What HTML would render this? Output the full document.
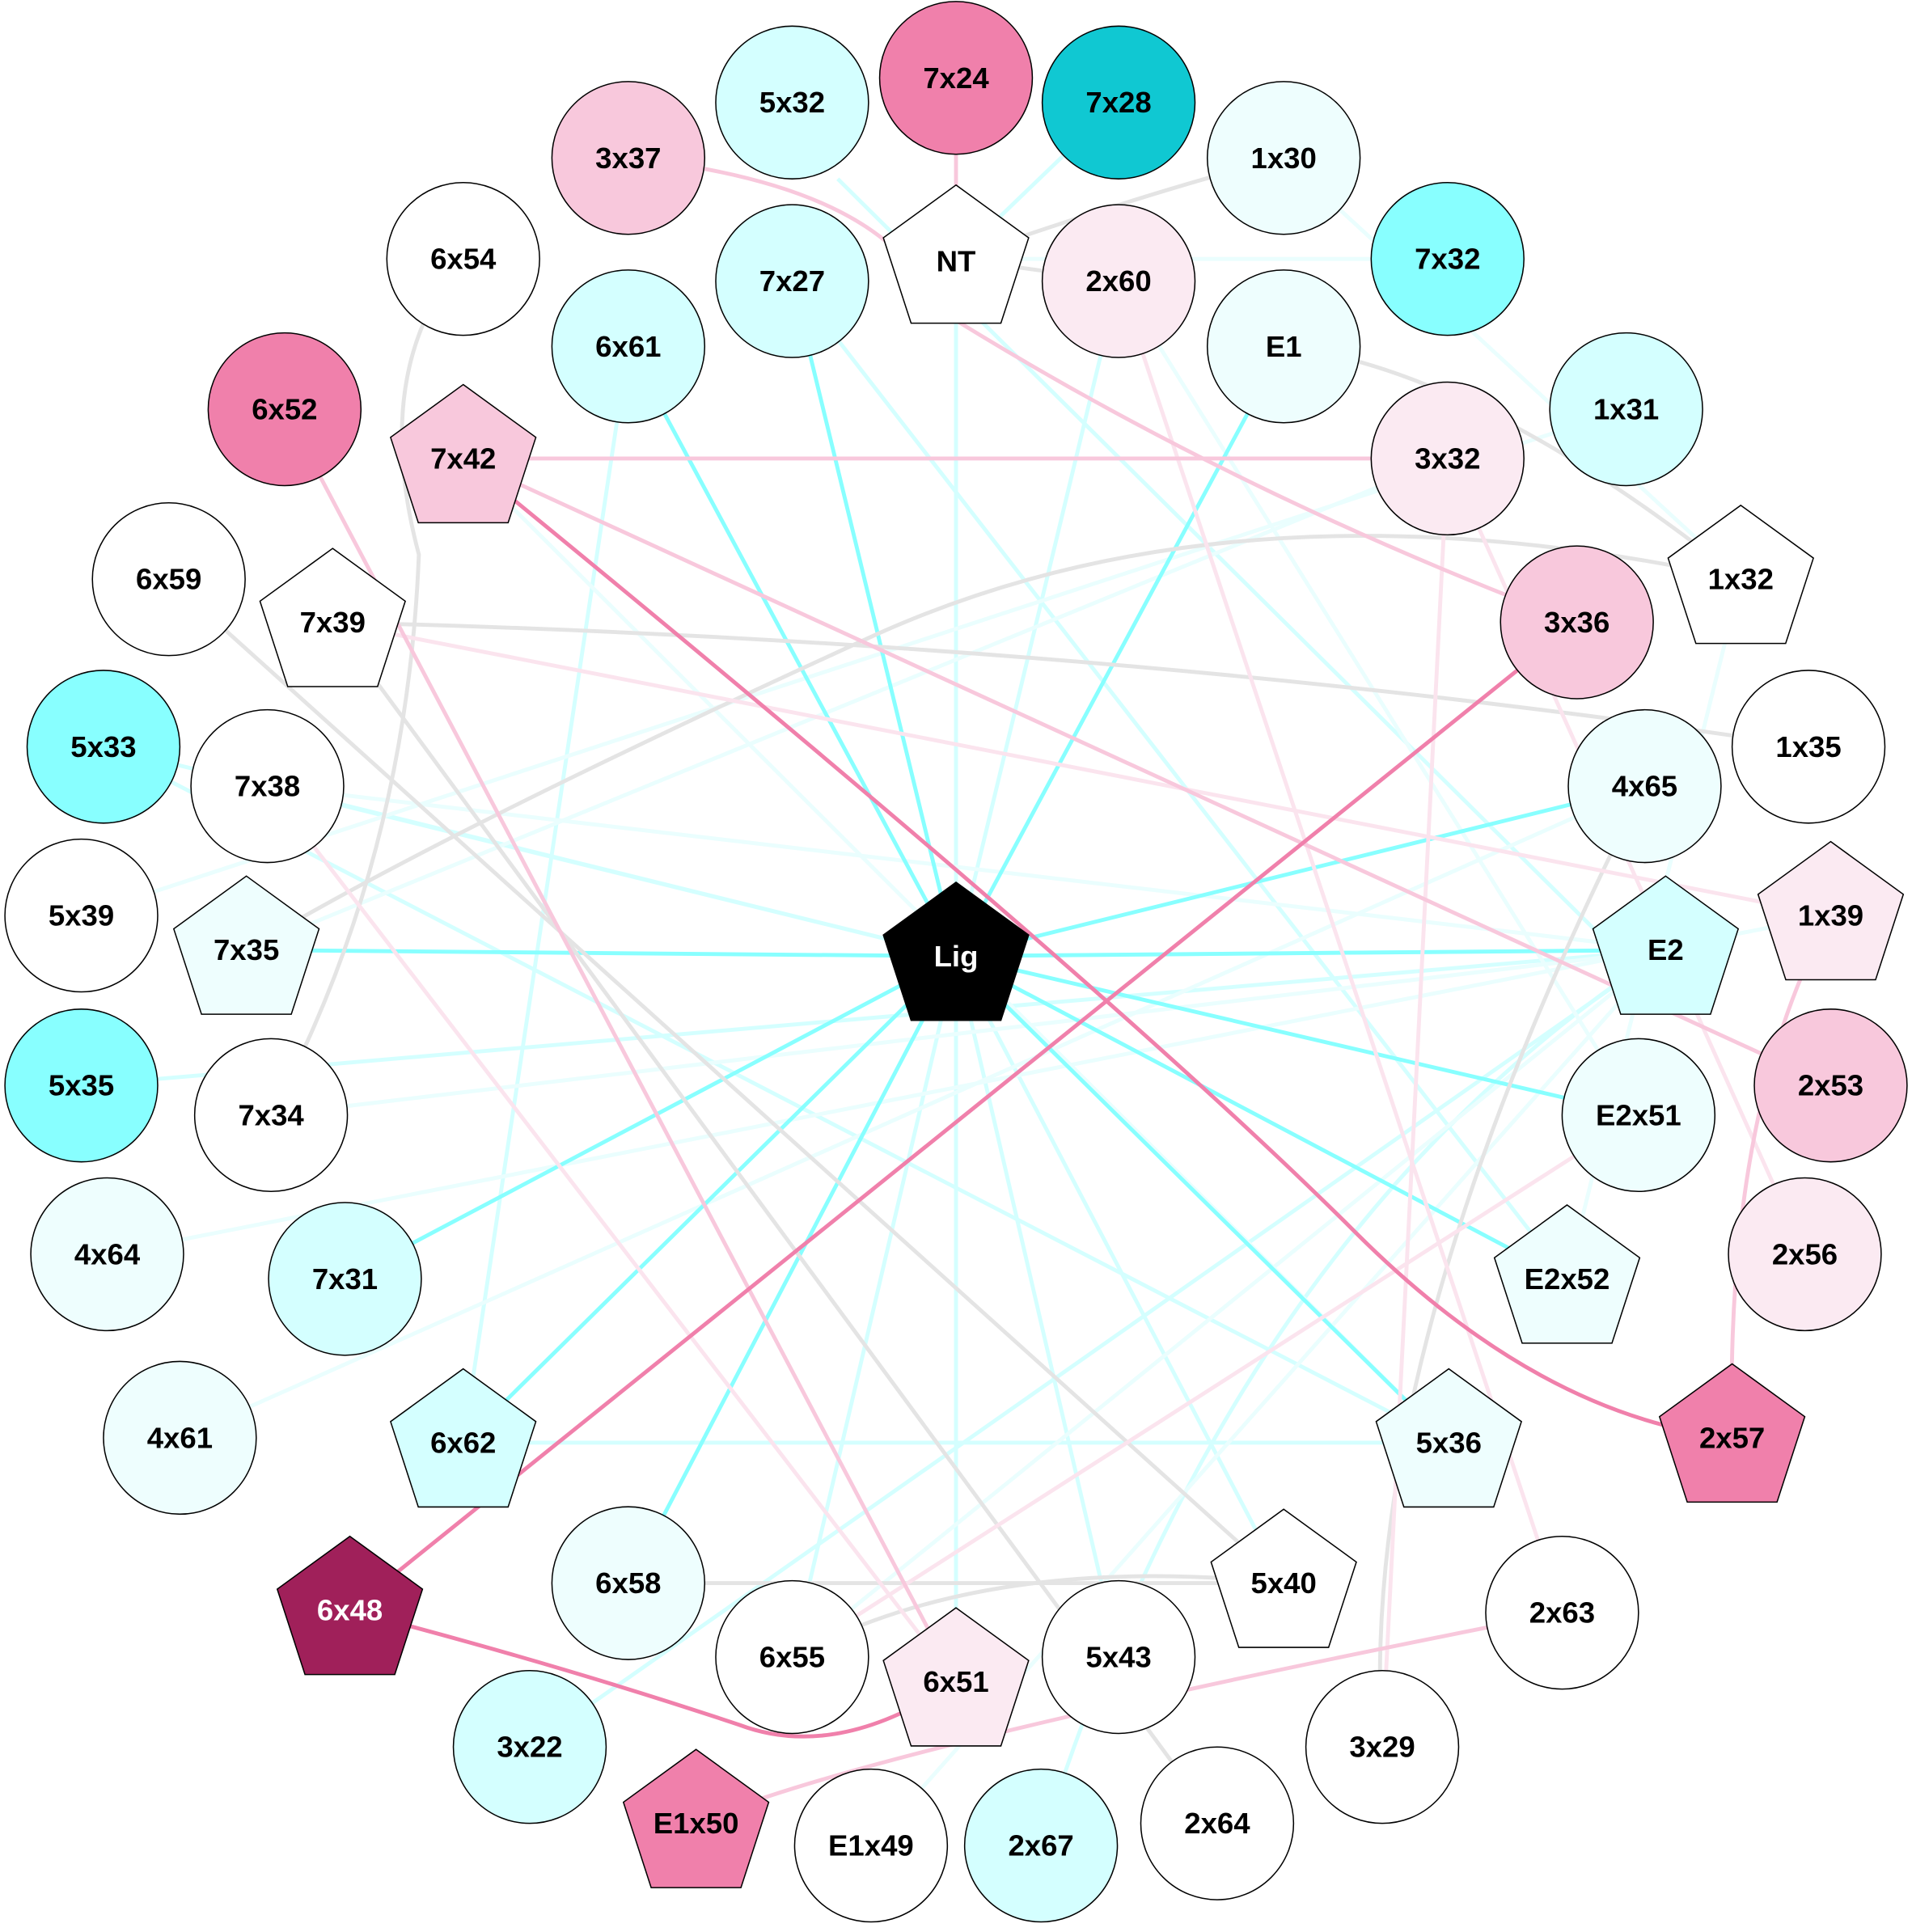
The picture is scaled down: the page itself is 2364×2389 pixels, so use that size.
<!DOCTYPE html>
<html><head><meta charset="utf-8"><style>html,body{margin:0;padding:0;background:#fff}svg{display:block}text{font-family:"Liberation Sans",Arial,sans-serif;font-weight:bold;font-size:24px;text-anchor:middle;dominant-baseline:central}</style></head>
<body>
<svg width="2364" height="2389" viewBox="0 0 1552 1568" xmlns="http://www.w3.org/2000/svg">
<defs>
<polygon id="pg" points="0,-62 58.97,-19.16 36.44,50.16 -36.44,50.16 -58.97,-19.16" stroke="#000" stroke-width="1"/>
</defs>
<g fill="none" stroke-width="3.2">
<g stroke="#d4ffff">
<line x1="776" y1="776" x2="776" y2="210"/>
<line x1="776" y1="776" x2="908" y2="228"/>
<line x1="776" y1="776" x2="84" y2="606"/>
<line x1="776" y1="776" x2="217" y2="638"/>
<line x1="776" y1="776" x2="643" y2="1345"/>
<line x1="776" y1="776" x2="776" y2="1365"/>
<line x1="776" y1="776" x2="908" y2="1345"/>
<line x1="776" y1="776" x2="1042" y2="1285"/>
<line x1="776" y1="776" x2="1352" y2="771"/>
<line x1="680" y1="145" x2="1300" y2="760"/>
<line x1="510" y1="281" x2="376" y2="1171"/>
<line x1="84" y1="606" x2="1176" y2="1171"/>
<line x1="1352" y1="771" x2="430" y2="1418"/>
<path d="M1352 771 Q1000 1000 845 1498"/>
<line x1="643" y1="228" x2="1272" y2="1038"/>
<line x1="376" y1="1171" x2="1176" y2="1171"/>
<line x1="66" y1="881" x2="1352" y2="771"/>
<line x1="908" y1="83" x2="776" y2="210"/>
</g>
<g stroke="#eafefe">
<line x1="776" y1="210" x2="1175" y2="210"/>
<line x1="1320" y1="332" x2="66" y2="743"/>
<line x1="1175" y1="372" x2="200" y2="771"/>
<line x1="217" y1="638" x2="1352" y2="771"/>
<line x1="220" y1="905" x2="1352" y2="771"/>
<line x1="87" y1="1018" x2="1486" y2="743"/>
<line x1="146" y1="1167" x2="1335" y2="638"/>
<line x1="707" y1="1498" x2="1352" y2="771"/>
<line x1="643" y1="1345" x2="1352" y2="771"/>
<line x1="1042" y1="128" x2="1413" y2="470"/>
<line x1="1272" y1="1038" x2="1413" y2="470"/>
<line x1="376" y1="372" x2="1176" y2="1171"/>
<line x1="908" y1="228" x2="1330" y2="905"/>
</g>
<g stroke="#88ffff">
<line x1="776" y1="776" x2="643" y2="228"/>
<line x1="776" y1="776" x2="510" y2="281"/>
<line x1="776" y1="776" x2="1042" y2="281"/>
<line x1="776" y1="776" x2="1335" y2="638"/>
<line x1="776" y1="776" x2="1352" y2="771"/>
<line x1="776" y1="776" x2="1330" y2="905"/>
<line x1="776" y1="776" x2="1272" y2="1038"/>
<line x1="776" y1="776" x2="1176" y2="1171"/>
<line x1="776" y1="776" x2="280" y2="1038"/>
<line x1="776" y1="776" x2="376" y2="1171"/>
<line x1="776" y1="776" x2="510" y2="1285"/>
<line x1="776" y1="776" x2="200" y2="771"/>
</g>
<g stroke="#e4e4e4">
<path d="M776 210 Q950 150 1042 128"/>
<line x1="776" y1="210" x2="908" y2="228"/>
<path d="M376 210 Q300 300 340 450 Q330 700 220 905"/>
<path d="M270 505 Q900 520 1468 606"/>
<line x1="270" y1="505" x2="988" y2="1480"/>
<line x1="137" y1="470" x2="1042" y2="1285"/>
<path d="M1413 470 Q1000 380 700 520 Q350 680 200 771"/>
<path d="M1042 281 Q1200 300 1413 470"/>
<line x1="510" y1="1285" x2="1042" y2="1285"/>
<path d="M643 1345 Q800 1260 1042 1285"/>
<path d="M1122 1418 Q1100 1100 1335 638"/>
</g>
<g stroke="#fbe4ee">
<line x1="908" y1="228" x2="1268" y2="1309"/>
<line x1="1122" y1="1418" x2="1175" y2="372"/>
<line x1="270" y1="505" x2="1486" y2="743"/>
<line x1="217" y1="638" x2="776" y2="1365"/>
<line x1="1465" y1="1018" x2="1175" y2="372"/>
<line x1="643" y1="1345" x2="1330" y2="905"/>
</g>
<g stroke="#f8c8dc">
<line x1="776" y1="63" x2="776" y2="210"/>
<path d="M510 128 Q720 150 760 250 Q1000 400 1280 505"/>
<line x1="231" y1="332" x2="776" y2="1365"/>
<line x1="376" y1="372" x2="1175" y2="372"/>
<line x1="376" y1="372" x2="1486" y2="881"/>
<path d="M565 1480 Q700 1420 1268 1309"/>
<path d="M1486 743 Q1400 900 1406 1167"/>
</g>
<g stroke="#f080ab">
<path d="M376 372 Q900 800 1100 1000 Q1250 1150 1406 1167"/>
<line x1="284" y1="1307" x2="1280" y2="505"/>
<path d="M284 1307 Q450 1350 600 1400 Q680 1430 776 1365"/>
</g>
</g>
<g stroke="#000" stroke-width="1">
<circle cx="776" cy="63" r="62" fill="#f080ab"/>
<circle cx="643" cy="83" r="62" fill="#d4ffff"/>
<circle cx="908" cy="83" r="62" fill="#10c8d2"/>
<circle cx="510" cy="128" r="62" fill="#f8c8dc"/>
<circle cx="1042" cy="128" r="62" fill="#eefefe"/>
<circle cx="376" cy="210" r="62" fill="#fff"/>
<circle cx="643" cy="228" r="62" fill="#d4ffff"/>
<circle cx="908" cy="228" r="62" fill="#fbeaf2"/>
<circle cx="1175" cy="210" r="62" fill="#88ffff"/>
<circle cx="510" cy="281" r="62" fill="#d4ffff"/>
<circle cx="1042" cy="281" r="62" fill="#eefefe"/>
<circle cx="231" cy="332" r="62" fill="#f080ab"/>
<circle cx="1175" cy="372" r="62" fill="#fbeaf2"/>
<circle cx="1320" cy="332" r="62" fill="#d4ffff"/>
<circle cx="137" cy="470" r="62" fill="#fff"/>
<circle cx="1280" cy="505" r="62" fill="#f8c8dc"/>
<circle cx="84" cy="606" r="62" fill="#88ffff"/>
<circle cx="217" cy="638" r="62" fill="#fff"/>
<circle cx="1335" cy="638" r="62" fill="#eefefe"/>
<circle cx="1468" cy="606" r="62" fill="#fff"/>
<circle cx="66" cy="743" r="62" fill="#fff"/>
<circle cx="66" cy="881" r="62" fill="#88ffff"/>
<circle cx="220" cy="905" r="62" fill="#fff"/>
<circle cx="1330" cy="905" r="62" fill="#eefefe"/>
<circle cx="1486" cy="881" r="62" fill="#f8c8dc"/>
<circle cx="87" cy="1018" r="62" fill="#eefefe"/>
<circle cx="280" cy="1038" r="62" fill="#d4ffff"/>
<circle cx="1465" cy="1018" r="62" fill="#fbeaf2"/>
<circle cx="146" cy="1167" r="62" fill="#eefefe"/>
<circle cx="510" cy="1285" r="62" fill="#eefefe"/>
<circle cx="1268" cy="1309" r="62" fill="#fff"/>
<circle cx="643" cy="1345" r="62" fill="#fff"/>
<circle cx="908" cy="1345" r="62" fill="#fff"/>
<circle cx="430" cy="1418" r="62" fill="#d4ffff"/>
<circle cx="1122" cy="1418" r="62" fill="#fff"/>
<circle cx="707" cy="1498" r="62" fill="#fff"/>
<circle cx="845" cy="1498" r="62" fill="#d4ffff"/>
<circle cx="988" cy="1480" r="62" fill="#fff"/>
</g>
<use href="#pg" x="776" y="212" fill="#fff"/>
<use href="#pg" x="376" y="374" fill="#f8c8dc"/>
<use href="#pg" x="270" y="507" fill="#fff"/>
<use href="#pg" x="1413" y="472" fill="#fff"/>
<use href="#pg" x="200" y="773" fill="#eefefe"/>
<use href="#pg" x="776" y="778" fill="#000"/>
<use href="#pg" x="1352" y="773" fill="#d4ffff"/>
<use href="#pg" x="1486" y="745" fill="#fbeaf2"/>
<use href="#pg" x="1272" y="1040" fill="#eefefe"/>
<use href="#pg" x="376" y="1173" fill="#d4ffff"/>
<use href="#pg" x="1176" y="1173" fill="#eefefe"/>
<use href="#pg" x="1406" y="1169" fill="#f080ab"/>
<use href="#pg" x="284" y="1309" fill="#a0205a"/>
<use href="#pg" x="1042" y="1287" fill="#fff"/>
<use href="#pg" x="776" y="1367" fill="#fbeaf2"/>
<use href="#pg" x="565" y="1482" fill="#f080ab"/>
<g fill="#000">
<text x="776" y="63">7x24</text><text x="643" y="83">5x32</text><text x="908" y="83">7x28</text>
<text x="510" y="128">3x37</text><text x="1042" y="128">1x30</text><text x="376" y="210">6x54</text>
<text x="643" y="228">7x27</text><text x="776" y="212">NT</text><text x="908" y="228">2x60</text>
<text x="1175" y="210">7x32</text><text x="510" y="281">6x61</text><text x="1042" y="281">E1</text>
<text x="231" y="332">6x52</text><text x="376" y="372">7x42</text><text x="1175" y="372">3x32</text>
<text x="1320" y="332">1x31</text><text x="137" y="470">6x59</text><text x="270" y="505">7x39</text>
<text x="1280" y="505">3x36</text><text x="1413" y="470">1x32</text><text x="84" y="606">5x33</text>
<text x="217" y="638">7x38</text><text x="1335" y="638">4x65</text><text x="1468" y="606">1x35</text>
<text x="66" y="743">5x39</text><text x="200" y="771">7x35</text><text x="1352" y="771">E2</text>
<text x="1486" y="743">1x39</text><text x="66" y="881">5x35</text><text x="220" y="905">7x34</text>
<text x="1330" y="905">E2x51</text><text x="1486" y="881">2x53</text><text x="87" y="1018">4x64</text>
<text x="280" y="1038">7x31</text><text x="1272" y="1038">E2x52</text><text x="1465" y="1018">2x56</text>
<text x="146" y="1167">4x61</text><text x="376" y="1171">6x62</text><text x="1176" y="1171">5x36</text>
<text x="1406" y="1167">2x57</text><text x="510" y="1285">6x58</text><text x="1042" y="1285">5x40</text>
<text x="1268" y="1309">2x63</text><text x="643" y="1345">6x55</text><text x="776" y="1365">6x51</text>
<text x="908" y="1345">5x43</text><text x="430" y="1418">3x22</text><text x="1122" y="1418">3x29</text>
<text x="565" y="1480">E1x50</text><text x="707" y="1498">E1x49</text><text x="845" y="1498">2x67</text>
<text x="988" y="1480">2x64</text>
</g>
<text x="776" y="776" fill="#fff">Lig</text>
<text x="284" y="1307" fill="#fff">6x48</text>
</svg>
</body></html>
